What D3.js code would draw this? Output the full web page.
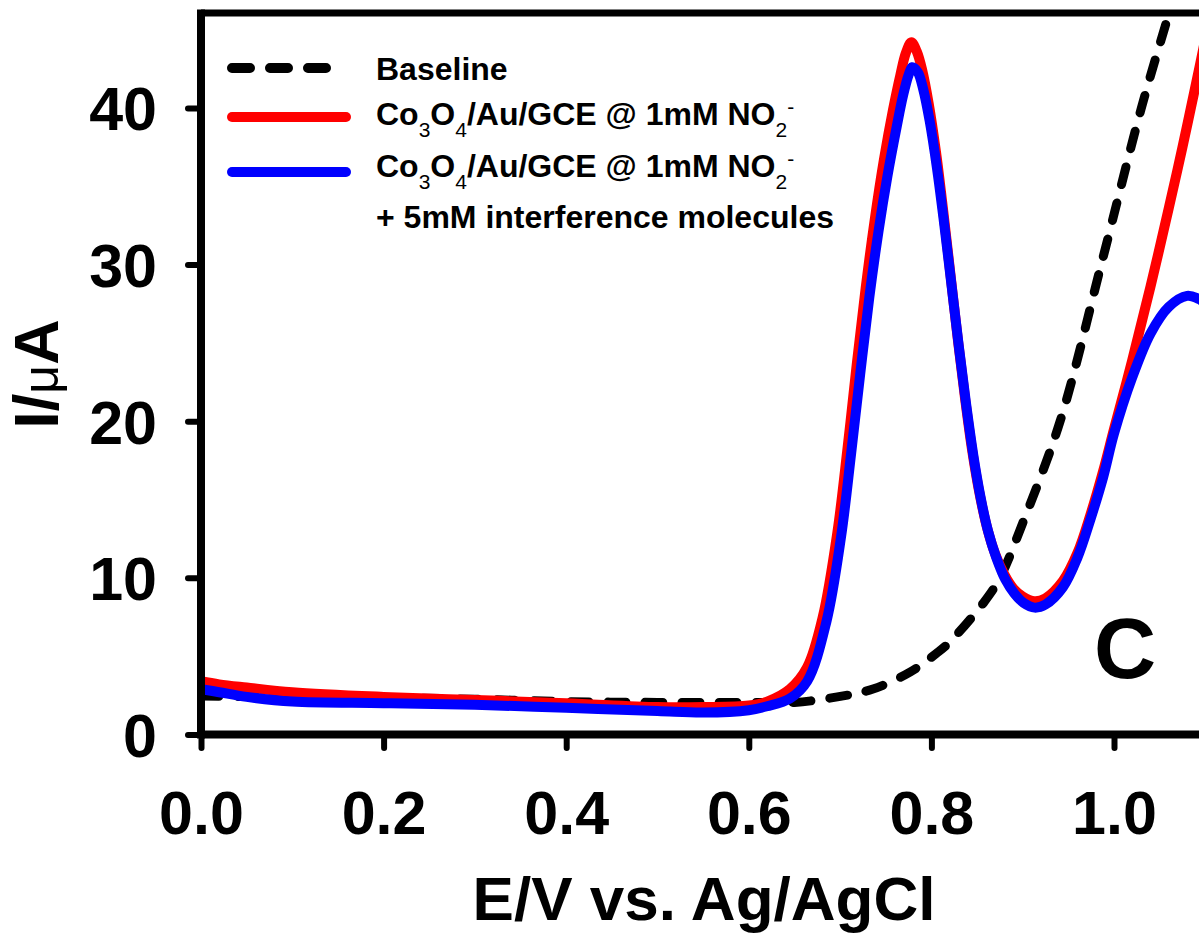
<!DOCTYPE html>
<html>
<head>
<meta charset="utf-8">
<script src="https://cdn.jsdelivr.net/npm/d3@7"></script>
<style>
  html, body { margin: 0; padding: 0; background: #fff; }
  svg { display: block; font-family: "Liberation Sans", Arial, sans-serif; }
</style>
</head>
<body>
<svg id="chart" width="1199" height="934"></svg>
<script>
// potential (V vs Ag/AgCl) and current (uA)
const baselineE = [0, 0.1, 0.2, 0.3, 0.4, 0.5, 0.6, 0.65, 0.697, 0.736, 0.777, 0.806, 0.82, 0.857, 0.875, 0.9, 0.941, 0.986, 1.03, 1.06, 1.08];
const baselineI = [2.45, 2.4, 2.35, 2.25, 2.1, 2.05, 2.05, 2.05, 2.4, 2.9, 4.0, 5.2, 5.9, 8.4, 10, 13.5, 20, 30, 40, 46, 50];

const redE = [0, 0.02, 0.05, 0.1, 0.2, 0.3, 0.4, 0.5, 0.55, 0.6, 0.62, 0.645, 0.664, 0.681, 0.697, 0.708, 0.718, 0.728, 0.738, 0.748, 0.758, 0.766, 0.772, 0.778, 0.784, 0.79, 0.797, 0.805, 0.813, 0.821, 0.829, 0.837, 0.845, 0.853, 0.861, 0.87, 0.88, 0.89, 0.9, 0.913, 0.925, 0.944, 0.96, 0.974, 0.988, 1.0, 1.02, 1.04, 1.06, 1.075, 1.09, 1.1];
const redI = [3.4, 3.2, 3.0, 2.7, 2.4, 2.2, 2.0, 1.75, 1.75, 1.85, 2.1, 2.9, 4.3, 7.5, 12.9, 18.2, 23.5, 28.5, 32.9, 36.7, 39.9, 42.1, 43.5, 44.2, 43.6, 42.4, 40.3, 37.2, 33.4, 29.3, 25.2, 21.4, 18.0, 15.3, 13.2, 11.5, 10.2, 9.3, 8.8, 8.5, 8.7, 9.8, 11.6, 14.0, 16.8, 19.5, 23.9, 28.6, 33.6, 37.5, 41.6, 44.4];

const blueE = [0, 0.02, 0.05, 0.1, 0.2, 0.3, 0.4, 0.5, 0.55, 0.6, 0.62, 0.645, 0.664, 0.685, 0.701, 0.712, 0.722, 0.732, 0.742, 0.752, 0.762, 0.769, 0.775, 0.779, 0.785, 0.791, 0.798, 0.806, 0.814, 0.822, 0.83, 0.838, 0.846, 0.854, 0.862, 0.871, 0.881, 0.891, 0.901, 0.913, 0.925, 0.944, 0.96, 0.974, 0.988, 1.0, 1.02, 1.04, 1.06, 1.08, 1.093, 1.1];
const blueI = [2.9, 2.7, 2.4, 2.1, 2.0, 1.9, 1.7, 1.5, 1.4, 1.55, 1.8, 2.3, 3.4, 7.2, 12.6, 17.9, 23.0, 27.9, 32.1, 35.7, 38.8, 40.8, 42.1, 42.6, 42.3, 41.2, 39.2, 36.2, 32.6, 28.7, 24.8, 21.1, 17.8, 15.1, 13.0, 11.3, 9.9, 9.0, 8.4, 8.1, 8.3, 9.4, 11.3, 13.7, 16.4, 19.2, 22.8, 25.6, 27.3, 28.0, 27.8, 27.5];

const xTicks = [0, 0.2, 0.4, 0.6, 0.8, 1.0];
const yTicks = [0, 10, 20, 30, 40];

const svg = d3.select("#chart");

const x = d3.scaleLinear().domain([0, 1.1]).range([201, 201 + 913 * 1.1]);
const y = d3.scaleLinear().domain([0, 46.06]).range([734.5, 13]);

svg.append("defs").append("clipPath")
  .attr("id", "plotClip")
  .append("rect")
  .attr("x", x(0))
  .attr("y", y.range()[1])
  .attr("width", x.range()[1] - x(0))
  .attr("height", y.range()[0] - y.range()[1]);

const line = d3.line()
  .x(d => x(d[0]))
  .y(d => y(d[1]))
  .curve(d3.curveCatmullRom.alpha(0.5));

const series = [
  { e: baselineE, i: baselineI, color: "#000", width: 9, dash: "18,19" },
  { e: redE, i: redI, color: "#ff0000", width: 10, dash: null },
  { e: blueE, i: blueI, color: "#0000ff", width: 10, dash: null }
];

const plot = svg.append("g").attr("clip-path", "url(#plotClip)");

plot.selectAll("path")
  .data(series)
  .join("path")
  .attr("fill", "none")
  .attr("stroke", d => d.color)
  .attr("stroke-width", d => d.width)
  .attr("stroke-linecap", d => d.dash ? "round" : "butt")
  .attr("stroke-linejoin", "round")
  .attr("stroke-dasharray", d => d.dash)
  .attr("d", d => line(d.e.map((v, k) => [v, d.i[k]])));

// axes
const xAxis = svg.append("g")
  .attr("transform", `translate(0,${y(0)})`)
  .call(d3.axisBottom(x).tickValues(xTicks).tickSize(13.5).tickFormat(d3.format(".1f")));

const yAxis = svg.append("g")
  .attr("transform", `translate(${x(0)},0)`)
  .call(d3.axisLeft(y).tickValues(yTicks).tickSize(13).tickFormat(d3.format("d")));

[xAxis, yAxis].forEach(g => {
  g.select(".domain").remove();
  g.selectAll(".tick line")
    .attr("stroke", "#000")
    .attr("stroke-width", 6)
    .attr("stroke-linecap", "round");
  g.selectAll(".tick text")
    .attr("fill", "#000")
    .attr("font-size", 61)
    .attr("font-weight", "bold");
});

xAxis.selectAll(".tick text").attr("dy", null).attr("y", 99.5);
yAxis.selectAll(".tick text").attr("x", -44).attr("dy", "0.36em");

// frame
const frame = svg.append("g").attr("stroke", "#000").attr("fill", "none");
frame.append("line")
  .attr("x1", x(0)).attr("x2", x.range()[1] + 10)
  .attr("y1", y(0)).attr("y2", y(0))
  .attr("stroke-width", 8);
frame.append("line")
  .attr("x1", x(0)).attr("x2", x.range()[1] + 10)
  .attr("y1", y.range()[1]).attr("y2", y.range()[1])
  .attr("stroke-width", 7);
frame.append("path")
  .attr("d", `M${x(0)},${y(0) + 4}V${y.range()[1] - 3.5}`)
  .attr("stroke-width", 8);

// axis titles
svg.append("text")
  .attr("x", 704)
  .attr("y", 920)
  .attr("text-anchor", "middle")
  .attr("font-size", 62)
  .attr("font-weight", "bold")
  .text("E/V vs. Ag/AgCl");

const yTitle = svg.append("text")
  .attr("transform", "translate(58,374) rotate(-90)")
  .attr("text-anchor", "middle")
  .attr("font-size", 63)
  .attr("font-weight", "bold");
yTitle.append("tspan").text("I/");
yTitle.append("tspan").attr("font-weight", "normal").attr("font-size", 50).text("μ");
yTitle.append("tspan").text("A");

// panel letter
svg.append("text")
  .attr("x", 1125)
  .attr("y", 678)
  .attr("text-anchor", "middle")
  .attr("font-size", 86)
  .attr("font-weight", "bold")
  .text("C");

// legend
const legend = svg.append("g").attr("font-weight", "bold").attr("font-size", 32);

legend.append("line")
  .attr("x1", 232).attr("x2", 330).attr("y1", 68).attr("y2", 68)
  .attr("stroke", "#000").attr("stroke-width", 10)
  .attr("stroke-linecap", "round").attr("stroke-dasharray", "18,20");
legend.append("line")
  .attr("x1", 232).attr("x2", 346).attr("y1", 117).attr("y2", 117)
  .attr("stroke", "#ff0000").attr("stroke-width", 10).attr("stroke-linecap", "round");
legend.append("line")
  .attr("x1", 232).attr("x2", 346).attr("y1", 172).attr("y2", 172)
  .attr("stroke", "#0000ff").attr("stroke-width", 10).attr("stroke-linecap", "round");

legend.append("text").attr("x", 376).attr("y", 80).text("Baseline");

function formulaLabel(yPos) {
  const t = legend.append("text").attr("x", 376).attr("y", yPos);
  const sub = (s) => t.append("tspan").attr("font-size", 21).attr("font-weight", "normal").attr("dy", 12).text(s);
  t.append("tspan").text("Co");
  sub("3");
  t.append("tspan").attr("dy", -12).text("O");
  sub("4");
  t.append("tspan").attr("dy", -12).text("/Au/GCE @ 1mM NO");
  sub("2");
  t.append("tspan").attr("font-size", 21).attr("font-weight", "normal").attr("dy", -23).text("-");
}
formulaLabel(125);
formulaLabel(177);

legend.append("text").attr("x", 376).attr("y", 228).text("+ 5mM interference molecules");
</script>
</body>
</html>
